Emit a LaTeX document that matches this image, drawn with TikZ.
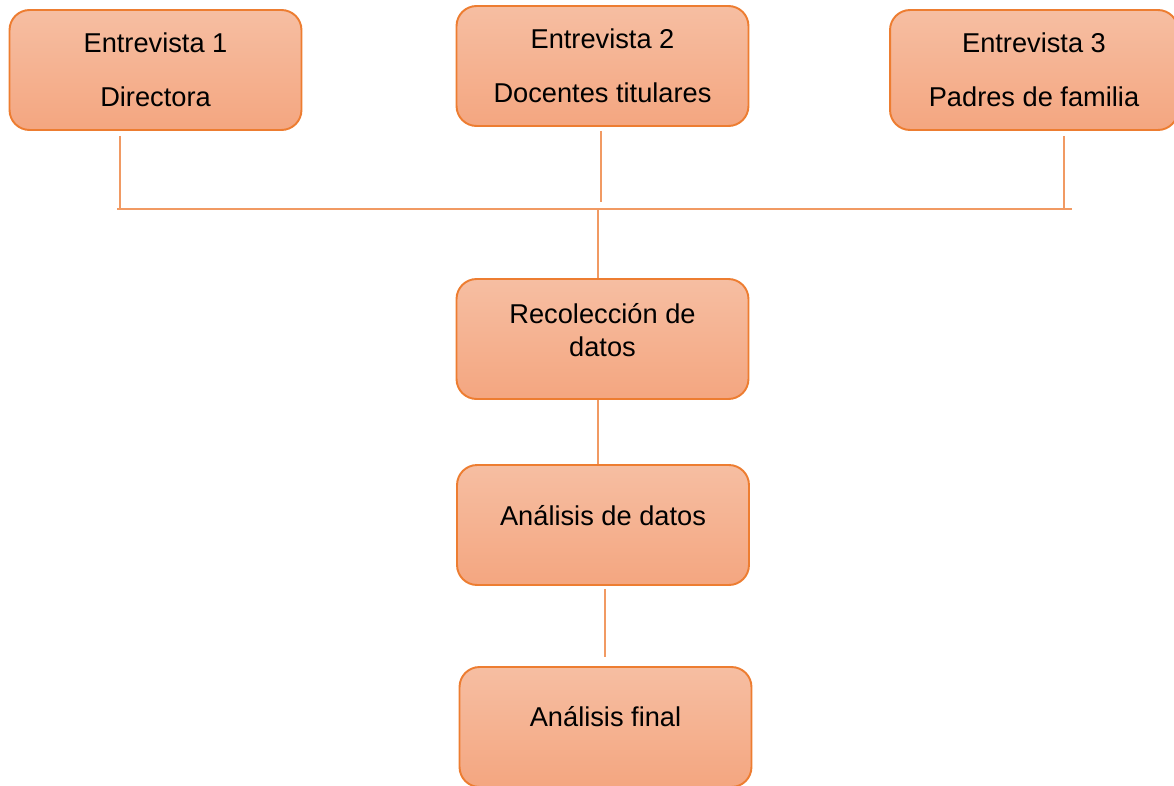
\documentclass[tikz,border=0pt]{standalone}
\usepackage{fontspec}
\setmainfont{Liberation Sans}

\definecolor{borde}{HTML}{ED7D31}
\definecolor{arriba}{HTML}{F6BEA2}
\definecolor{abajo}{HTML}{F4A680}
\definecolor{linea}{HTML}{F19A63}

\tikzset{
    caja/.style={draw=borde, line width=1.1pt, rounded corners=0.4cm,
        top color=arriba, bottom color=abajo, inner sep=0pt,
        minimum width=5.84cm, minimum height=2.4cm},
    texto/.style={font=\fontsize{15.5}{18.6}\selectfont, align=center, inner sep=0pt},
    textoalto/.style={font=\fontsize{15.5}{31}\selectfont, align=center, inner sep=0pt},
    enlace/.style={draw=linea, line width=0.8pt}
}

\begin{document}
\begin{tikzpicture}[x=0.02cm, y=-0.02cm]
    % marco del dibujo
    \useasboundingbox (0,0) rectangle (1174,785);

    % las tres entrevistas
    \node[caja] (e1) at (155.5,70) {};
    \node[caja] (e2) at (602.5,66) {};
    \node[caja, minimum width=5.76cm] (e3) at (1034,70) {};
    \node[textoalto] (e1t) at (e1) {Entrevista 1\\Directora};
    \node[textoalto] (e2t) at (e2) {Entrevista 2\\Docentes titulares};
    \node[textoalto] (e3t) at (e3) {Entrevista 3\\Padres de familia};

    % los pasos del proceso
    \node[caja] (rec) at (602.5,339) {};
    \node[caja] (ana) at (603,525) {};
    \node[caja] (fin) at (605.5,727) {};
    \node[texto] (rect) at ([yshift=0.18cm]rec.center) {Recolección de\\datos};
    \node[texto] (anat) at ([yshift=0.18cm]ana.center) {Análisis de datos};
    \node[texto] (fint) at ([yshift=0.2cm]fin.center) {Análisis final};

    % puntos de union
    \coordinate (b1) at (120,208);
    \coordinate (b2) at (601,202);
    \coordinate (b3) at (1064,208);
    \coordinate (hI) at (117,209);
    \coordinate (hD) at (1072,209);
    \coordinate (hC) at (598,209);
    \coordinate (g) at (605,657);

    % conectores
    \draw[enlace] (e1.south -| b1) ++(0,5) -- (b1);
    \draw[enlace] (e2.south -| b2) ++(0,4) -- (b2);
    \draw[enlace] (e3.south -| b3) ++(0,5) -- (b3);
    \draw[enlace] (hI) -- (hD);
    \draw[enlace] (hC) -- (hC |- rec.north);
    \draw[enlace] (rec.south -| hC) -- (ana.north -| hC);
    \draw[enlace] (ana.south -| g) ++(0,3) -- (g);
\end{tikzpicture}
\end{document}
